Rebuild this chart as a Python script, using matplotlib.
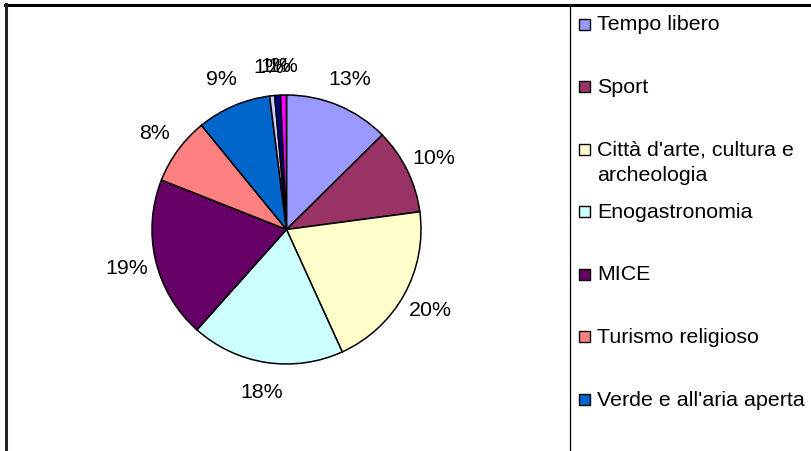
import matplotlib
matplotlib.use("Agg")
import matplotlib.pyplot as plt
from matplotlib.lines import Line2D
from matplotlib.patches import Rectangle

categories = ["Tempo libero", "Sport", "Città d'arte, cultura e\narcheologia",
              "Enogastronomia", "MICE", "Turismo religioso",
              "Verde e all'aria aperta", "Altro 1", "Altro 2", "Altro 3"]
values = [12.6, 10.3, 20.3, 18.4, 19.4, 8.1, 8.9, 0.6, 0.7, 0.7]
colors = ["#9999FF", "#993366", "#FFFFCC", "#CCFFFF", "#660066",
          "#FF8080", "#0066CC", "#CCCCFF", "#000080", "#FF00FF"]
visible_legend = 7

plt.rcParams['font.family'] = ['Liberation Sans', 'DejaVu Sans']

W, H = 811, 452
fig = plt.figure(figsize=(W / 100, H / 100), dpi=100)
fig.patch.set_facecolor("white")

# pie axes: center (286.5, 230.5) px, radius 134.5 px
R = 134.5
cx, cy = 286.5, 230.5
span = 2.5 * R
ax = fig.add_axes([(cx - span / 2) / W, (H - cy - span / 2) / H, span / W, span / H])
ax.pie(values, colors=colors, startangle=90, counterclock=False,
       autopct="%.0f%%", pctdistance=1.22,
       wedgeprops=dict(edgecolor="black", linewidth=1.1),
       textprops=dict(fontsize=15.4, color="black"))
ax.set_xlim(-1.25, 1.25)
ax.set_ylim(-1.25, 1.25)
ax.set_aspect("equal")
ax.axis("off")

# frame lines
def fx(x):
    return x / W

def fy(y):
    return 1 - y / H

fig.add_artist(Line2D([fx(5), fx(811)], [fy(6), fy(6)], color="black", linewidth=2.2))
fig.add_artist(Line2D([fx(6), fx(6)], [fy(5), fy(452)], color="#222222", linewidth=2.2))
fig.add_artist(Line2D([fx(570), fx(570)], [fy(6), fy(452)], color="black", linewidth=0.9))

# legend
top = 25
step = 62.5
for i in range(visible_legend):
    y = top + i * step
    fig.add_artist(Rectangle((fx(579), fy(y + 5.5)), 11 / W, 11 / H,
                             facecolor=colors[i], edgecolor="black", linewidth=1.0,
                             transform=fig.transFigure))
    lines = categories[i].split("\n")
    for j, line in enumerate(lines):
        fig.text(fx(597), fy(y + j * 26), line, fontsize=15.4, color="black",
                 ha="left", va="center")

fig.savefig("out.png", dpi=100)
